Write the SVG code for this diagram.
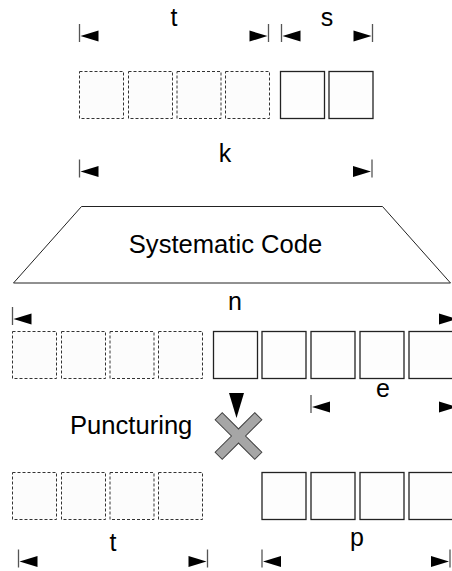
<svg xmlns="http://www.w3.org/2000/svg" xmlns:xlink="http://www.w3.org/1999/xlink" width="452" height="571" viewBox="0 0 452 571">
<style>
.dash{fill:#fcfcfc;stroke:#333;stroke-width:1;stroke-dasharray:3 2}
.solid{fill:#fdfdfd;stroke:#222;stroke-width:1.3}
.lbl{font-family:"Liberation Sans",Arial,sans-serif;font-size:25px;fill:#000}
.big{font-family:"Liberation Sans",Arial,sans-serif;font-size:25.6px;fill:#000}
.tick{stroke:#555;stroke-width:1.3}
</style>
<defs>
<g id="dl"><line class="tick" x1="0" y1="-12" x2="0" y2="6"/><path d="M1,0 L19,-5.5 L19,5.5Z" fill="#000"/></g>
<g id="dr"><line class="tick" x1="0" y1="-12" x2="0" y2="6"/><path d="M-1,0 L-19,-5.5 L-19,5.5Z" fill="#000"/></g>
</defs>
<rect width="452" height="571" fill="#fff"/>

<g id="input-row">
<rect class="dash" x="79.5" y="71.5" width="44" height="47"/>
<rect class="dash" x="128.5" y="71.5" width="44" height="47"/>
<rect class="dash" x="177" y="71.5" width="44" height="47"/>
<rect class="dash" x="225.5" y="71.5" width="44" height="47"/>
<rect class="solid" x="280.5" y="71.5" width="44" height="47"/>
<rect class="solid" x="329" y="71.5" width="44" height="47"/>
</g>

<g id="encoder">
<path d="M81.5,206.5 L382.5,206.5 L450.5,283 L13.5,283 Z" fill="#fff" stroke="#222" stroke-width="1"/>
<text class="big" x="225.5" y="253" text-anchor="middle">Systematic Code</text>
</g>

<g id="codeword-row">
<rect class="dash" x="12.5" y="331.5" width="44" height="47"/>
<rect class="dash" x="61.5" y="331.5" width="44" height="47"/>
<rect class="dash" x="110" y="331.5" width="44" height="47"/>
<rect class="dash" x="158.5" y="331.5" width="44" height="47"/>
<rect class="solid" x="213.5" y="331.5" width="44" height="47"/>
<rect class="solid" x="262" y="331.5" width="44" height="47"/>
<rect class="solid" x="311" y="331.5" width="44" height="47"/>
<rect class="solid" x="360" y="331.5" width="44" height="47"/>
<rect class="solid" x="409" y="331.5" width="44" height="47"/>
</g>

<g id="puncturing">
<path transform="translate(238.5,436) rotate(45)" d="M-5,-28 L5,-28 L5,-5 L28,-5 L28,5 L5,5 L5,28 L-5,28 L-5,5 L-28,5 L-28,-5 L-5,-5 Z" fill="#a6a6a6" stroke="#404040" stroke-width="1"/>
<text class="big" x="70" y="434">Puncturing</text>
</g>

<g id="output-row">
<rect class="dash" x="12.5" y="472.5" width="44" height="47"/>
<rect class="dash" x="61.5" y="472.5" width="44" height="47"/>
<rect class="dash" x="110" y="472.5" width="44" height="47"/>
<rect class="dash" x="158.5" y="472.5" width="44" height="47"/>
<rect class="solid" x="262" y="472.5" width="44" height="47"/>
<rect class="solid" x="311" y="472.5" width="44" height="47"/>
<rect class="solid" x="360" y="472.5" width="44" height="47"/>
<rect class="solid" x="409" y="472.5" width="44" height="47"/>
</g>

<g id="connectors">
<path d="M229,393 L244,393 L236.5,418 Z" fill="#000"/>
<use xlink:href="#dl" x="79.5" y="36"/><use xlink:href="#dr" x="268.5" y="36"/>
<use xlink:href="#dl" x="281.5" y="36"/><use xlink:href="#dr" x="372.5" y="36"/>
<use xlink:href="#dl" x="79.5" y="171.5"/><use xlink:href="#dr" x="372" y="171.5"/>
<use xlink:href="#dl" x="12.5" y="319"/><use xlink:href="#dr" x="458" y="319"/>
<use xlink:href="#dl" x="311" y="407"/><use xlink:href="#dr" x="458" y="407"/>
<use xlink:href="#dl" x="18.5" y="561.5"/><use xlink:href="#dr" x="207.5" y="561.5"/>
<use xlink:href="#dl" x="262" y="561.5"/><use xlink:href="#dr" x="450" y="561.5"/>
</g>

<g id="labels">
<text class="lbl" x="174" y="26" text-anchor="middle">t</text>
<text class="lbl" x="327" y="26" text-anchor="middle">s</text>
<text class="lbl" x="225" y="162" text-anchor="middle">k</text>
<text class="lbl" x="235" y="310" text-anchor="middle">n</text>
<text class="lbl" x="383" y="397" text-anchor="middle">e</text>
<text class="lbl" x="113" y="551" text-anchor="middle">t</text>
<text class="lbl" x="357" y="546" text-anchor="middle">p</text>
</g>
</svg>
